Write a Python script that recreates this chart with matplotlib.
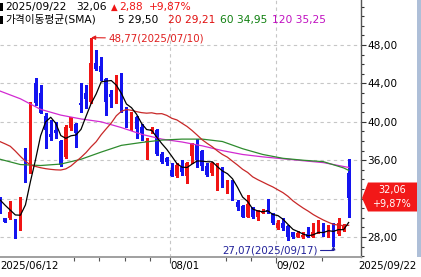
import matplotlib
matplotlib.use('Agg')
import matplotlib.pyplot as plt
import matplotlib.transforms as mtransforms
from matplotlib.patches import Polygon, Rectangle
from matplotlib.ticker import FixedLocator, MultipleLocator, FuncFormatter, NullFormatter
import numpy as np
import pandas as pd

plt.rcParams['font.family'] = ['DejaVu Sans', 'Noto Sans CJK KR']

# ---------------- data ----------------
market_holidays = ['2025-06-19', '2025-07-04', '2025-09-01']
dates = pd.bdate_range('2025-06-12', '2025-09-22').drop(pd.to_datetime(market_holidays))

opens = [31.85, 29.94, 29.94, 29.84, 29.00, 37.00, 35.33, 44.00, 42.97, 40.60,
         38.70, 39.15, 38.00, 36.30, 39.32, 39.74, 41.99, 42.97, 42.10, 46.09,
         45.81, 44.42, 42.90, 42.10, 44.42, 41.40, 39.22, 40.47, 39.42, 37.86,
         39.08, 39.15, 36.65, 36.20, 34.98, 34.36, 35.33, 34.35, 36.44, 37.69,
         36.99, 35.39, 34.70, 34.70, 35.15, 33.59, 33.42, 31.68, 31.23, 30.12,
         31.09, 30.05, 30.54, 30.81, 30.46, 28.90, 29.49, 29.14, 28.55, 28.03,
         27.96, 28.31, 28.03, 28.38, 29.14, 28.20, 28.38, 28.31, 28.73, 34.63]
highs = [32.20, 30.00, 31.78, 29.90, 32.20, 37.30, 42.10, 44.53, 43.83, 40.88,
         40.19, 40.00, 38.10, 39.67, 40.53, 39.84, 44.00, 43.83, 48.77, 47.48,
         46.78, 44.53, 43.31, 44.88, 45.12, 41.58, 41.06, 40.60, 39.77, 38.28,
         39.50, 39.22, 36.90, 36.37, 35.74, 35.67, 36.02, 35.85, 37.76, 38.17,
         37.06, 35.67, 35.85, 35.74, 35.33, 33.94, 33.94, 31.85, 31.33, 32.37,
         31.16, 30.81, 30.88, 31.96, 30.54, 29.77, 29.94, 29.25, 28.55, 28.62,
         28.55, 29.07, 29.49, 29.77, 29.49, 29.25, 29.42, 29.94, 29.35, 36.09]
lows = [30.47, 29.55, 29.90, 27.86, 28.73, 33.76, 34.63, 41.75, 40.88, 37.24,
        38.10, 38.28, 35.45, 36.20, 39.20, 37.34, 41.06, 41.40, 42.00, 45.40,
        44.35, 40.71, 41.58, 41.92, 41.06, 39.50, 39.15, 38.28, 38.10, 36.09,
        38.80, 36.54, 35.74, 35.50, 34.39, 34.28, 34.46, 33.66, 35.67, 35.33,
        34.98, 34.35, 34.46, 32.90, 33.17, 32.62, 31.85, 30.81, 30.05, 30.05,
        29.94, 29.77, 30.46, 30.46, 29.35, 28.80, 28.73, 27.69, 27.86, 27.96,
        27.86, 27.96, 27.96, 28.38, 28.10, 28.03, 27.07, 28.20, 28.66, 30.12]
closes = [30.64, 29.60, 30.64, 28.56, 31.92, 36.02, 41.92, 41.92, 40.95, 39.15,
          38.45, 38.80, 35.50, 39.50, 40.47, 38.87, 41.72, 42.34, 46.09, 45.47,
          45.22, 42.10, 42.62, 43.66, 41.23, 39.67, 40.19, 39.22, 38.87, 38.03,
          39.25, 36.65, 35.85, 35.85, 34.39, 35.50, 34.80, 35.67, 37.65, 36.02,
          35.39, 34.46, 35.67, 35.15, 33.76, 33.94, 31.85, 31.16, 30.12, 31.44,
          30.05, 30.81, 30.74, 30.64, 29.49, 29.49, 28.90, 28.03, 28.03, 28.38,
          28.20, 28.03, 28.55, 29.25, 28.31, 29.14, 27.69, 29.49, 29.18, 32.06]

# moving-average values before enough visible history exists
ma5_head = [31.85, 31.30, 30.80, 30.30]
ma20_head = [37.93, 37.70, 37.45, 36.95, 36.40, 35.90, 35.50, 35.35, 35.22, 35.12,
             35.05, 35.00, 34.98, 35.10, 35.40, 35.85, 36.30, 36.80, 37.40]
ma_long_idx = [0, 4, 8, 12, 16, 20, 24, 28, 32, 36, 40, 44, 48, 52, 56, 60, 64, 68, 69]
ma60 = [36.10, 35.55, 35.45, 35.60, 36.10, 36.85, 37.55, 37.85, 38.10, 38.20,
        38.20, 37.95, 37.20, 36.60, 36.20, 36.00, 35.85, 35.20, 34.95]
ma120 = [43.20, 42.40, 41.30, 40.70, 40.30, 40.00, 39.40, 38.70, 38.20, 37.90,
         37.50, 37.00, 36.60, 36.35, 36.15, 35.95, 35.75, 35.35, 35.25]

# legend text as printed on the chart
ma_periods = [5, 20, 60, 120]
ma_last_values = [29.50, 29.21, 34.95, 35.25]
last_change = 2.88
last_change_pct = 9.87

y_ticks = [28, 32, 36, 40, 44, 48]
month_dates = ['2025-08-01', '2025-09-02']
month_labels = ['08/01', '09/02']
first_label = '2025/06/12'
last_label = '2025/09/22'
week_tick_dates = ['2025-07-07', '2025-07-14', '2025-07-21', '2025-07-28',
                   '2025-08-18', '2025-08-25', '2025-09-15']

# ---------------- derived ----------------
n = len(closes)
xi = np.arange(n)
cs = pd.Series(closes)
ma5 = np.concatenate([ma5_head, cs.rolling(5).mean().values[4:]])
ma20 = np.concatenate([ma20_head, cs.rolling(20).mean().values[19:]])
pos = {d: i for i, d in enumerate(dates.strftime('%Y-%m-%d'))}
c_last = closes[-1]


def kfmt(v):
    return f'{v:.2f}'.replace('.', ',')


UP = '#f01414'
DN = '#1414f0'
GRID = '#c6c6c6'

W, H = 421, 277
fig = plt.figure(figsize=(W / 100, H / 100), dpi=100)
fig.patch.set_facecolor('white')
ax = fig.add_axes([0, 20 / H, 361 / W, 257 / H])
ax.set_facecolor('white')
ax.set_xlim(-0.04, 71.45)
ax.set_ylim(25.92, 52.69)


def fx(x):
    return x / W


def fy(y):
    return 1 - y / H


# grid
for v in y_ticks:
    ax.axhline(v, color=GRID, lw=0.8, ls=(0, (3, 3)), zorder=1)
for d in month_dates:
    ax.axvline(pos[d] - 0.35, color=GRID, lw=0.8, ls=(0, (3, 3)), zorder=1)

# candles
for i in range(n):
    o, h, l, c = opens[i], highs[i], lows[i], closes[i]
    col = UP if c >= o else DN
    ax.vlines(i, l, h, colors=col, lw=0.9, antialiased=False, zorder=3)
    ax.bar(i, max(abs(c - o), 0.12), bottom=min(o, c), width=0.72,
           color=col, lw=0, antialiased=False, zorder=4)

# moving averages
ax.plot(ma_long_idx, ma120, color='#d22ad2', lw=0.9, zorder=5)
ax.plot(ma_long_idx, ma60, color='#2e8b2e', lw=0.9, zorder=5)
ax.plot(xi, ma20, color='#c82828', lw=0.9, zorder=5)
ax.plot(xi, ma5, color='black', lw=0.9, zorder=6)

# axes styling
for s in ['top', 'left']:
    ax.spines[s].set_visible(False)
ax.spines['right'].set_color('#555555')
ax.spines['right'].set_linewidth(1.0)
ax.spines['bottom'].set_color('#a0a0a0')
ax.spines['bottom'].set_linewidth(1.4)

ax.yaxis.tick_right()
ax.yaxis.set_major_locator(FixedLocator(y_ticks))
ax.yaxis.set_minor_locator(MultipleLocator(1))
# the price tag covers the tick label that sits under it
ax.yaxis.set_major_formatter(FuncFormatter(
    lambda v, p: '' if abs(v - c_last) < 1.4 else kfmt(v)))
ax.tick_params(axis='y', which='major', length=3.5, width=0.8, color='#333333',
               pad=1, labelsize=7.6, labelcolor='black')
ax.tick_params(axis='y', which='minor', length=2.2, width=0.8, color='#333333')

ax.xaxis.set_major_locator(FixedLocator([pos[d] - 0.35 for d in month_dates]))
ax.xaxis.set_minor_locator(FixedLocator([pos[d] - 0.35 for d in week_tick_dates]))
ax.xaxis.set_major_formatter(NullFormatter())
ax.tick_params(axis='x', which='major', length=4, width=0.8, color='#555555')
ax.tick_params(axis='x', which='minor', length=3, width=0.8, color='#555555')

# date labels
blend = mtransforms.blended_transform_factory(ax.transData, fig.transFigure)
fig.text(fx(0), fy(266.5), first_label, ha='left', va='center', fontsize=7.4)
for d, lab in zip(month_dates, month_labels):
    ax.text(pos[d] - 0.35, fy(266.5), lab, transform=blend, ha='left', va='center',
            fontsize=7.4, clip_on=False)
fig.text(fx(417), fy(266.5), last_label, ha='right', va='center', fontsize=7.4)

# high / low annotations
i_hi = int(np.argmax(highs))
i_lo = int(np.argmin(lows))
RED_T = '#e02020'
BLUE_T = '#22229a'
ax.annotate(kfmt(highs[i_hi]) + '(' + dates[i_hi].strftime('%Y/%m/%d') + ')',
            xy=(i_hi, highs[i_hi]), xytext=(17, -1), textcoords='offset pixels',
            ha='left', va='center', fontsize=7.4, color=RED_T, zorder=8,
            arrowprops=dict(arrowstyle='-|>', color=RED_T, lw=0.8, shrinkA=0, shrinkB=0,
                            mutation_scale=6))
ax.annotate(kfmt(lows[i_lo]) + '(' + dates[i_lo].strftime('%Y/%m/%d') + ')',
            xy=(i_lo, lows[i_lo]), xytext=(-16, -4.5), textcoords='offset pixels',
            ha='right', va='center', fontsize=7.4, color=BLUE_T, zorder=8,
            arrowprops=dict(arrowstyle='-|>', color=BLUE_T, lw=0.8, shrinkA=0, shrinkB=0,
                            mutation_scale=5,
                            connectionstyle='angle,angleA=0,angleB=90,rad=0'))

# last price tag
yt = ax.get_yaxis_transform()
tag = Polygon([(362 / 361, c_last), (368 / 361, c_last + 1.62), (417 / 361, c_last + 1.62),
               (417 / 361, c_last - 1.4), (368 / 361, c_last - 1.4)], closed=True,
              transform=yt, facecolor='#f21818', edgecolor='none', clip_on=False, zorder=20)
ax.add_patch(tag)
ax.text(391.7 / 361, c_last + 0.82, kfmt(c_last), transform=yt,
        ha='center', va='center', color='white', fontsize=7.0, clip_on=False, zorder=21)
ax.text(391.7 / 361, c_last - 0.66, '+' + kfmt(last_change_pct) + '%', transform=yt,
        ha='center', va='center', color='white', fontsize=7.0, clip_on=False, zorder=21)

# header
fig.add_artist(Rectangle((fx(0.3), fy(10.8)), 3 / W, 7.5 / H, transform=fig.transFigure,
                         facecolor='black', edgecolor='none'))
fig.add_artist(Rectangle((fx(0.3), fy(23.5)), 3 / W, 7.5 / H, transform=fig.transFigure,
                         facecolor='black', edgecolor='none'))
FS = 7.7
Y1, Y2 = 7.2, 19.7
fig.text(fx(5), fy(Y1), dates[-1].strftime('%Y/%m/%d'), ha='left', va='center', fontsize=FS)
fig.text(fx(76), fy(Y1), kfmt(c_last), ha='left', va='center', fontsize=FS)
fig.text(fx(111), fy(Y1), '▲', ha='left', va='center', fontsize=6.2, color=UP)
fig.text(fx(119), fy(Y1), kfmt(last_change), ha='left', va='center', fontsize=FS, color=UP)
fig.text(fx(149), fy(Y1), '+' + kfmt(last_change_pct) + '%', ha='left', va='center',
         fontsize=FS, color=UP)

ma_cols = ['black', '#e01010', '#108010', '#c010c0']
ma_x = [118, 168, 220, 272]
fig.text(fx(5), fy(Y2), '가격이동평균(SMA)', ha='left', va='center', fontsize=FS)
for p, v, c, x0 in zip(ma_periods, ma_last_values, ma_cols, ma_x):
    fig.text(fx(x0), fy(Y2), f'{p} ' + kfmt(v), ha='left', va='center', fontsize=FS, color=c)

# right frame strip
fig.add_artist(Rectangle((fx(417), fy(257)), 4 / W, 257 / H, transform=fig.transFigure,
                         facecolor='#aebfd8', edgecolor='none'))

fig.savefig('out.png', dpi=100)
